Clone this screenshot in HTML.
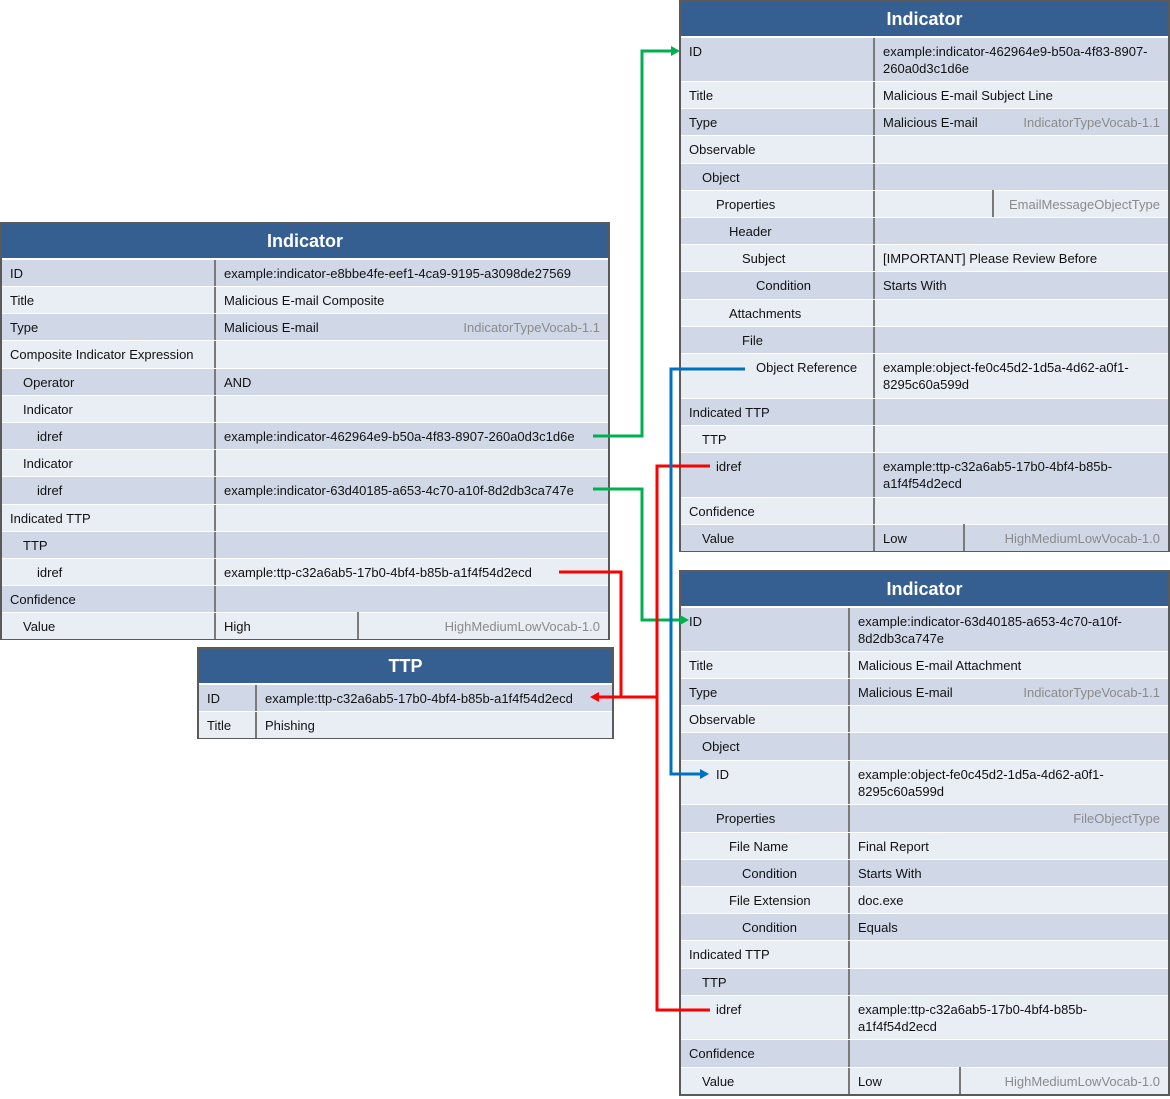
<!DOCTYPE html>
<html><head><meta charset="utf-8"><style>
*{box-sizing:border-box;margin:0;padding:0}
body{width:1170px;height:1099px;background:#fff;position:relative;overflow:hidden;font-family:"Liberation Sans",sans-serif;font-size:13px;color:#111}
.box{position:absolute;border:2px solid #5a5a5a;background:#fff}
.hd{background:#365F91;color:#fff;font-weight:bold;font-size:18px;text-align:center;line-height:34px;margin-bottom:1px}
.r{display:flex;border-top:1px solid #fff;line-height:17px}
.d{background:#D0D8E8}.l{background:#E9EDF4}
.k{border-right:2px solid #7a7a7a;padding:5px 0 0 8px;flex:none}
.v{padding:5px 0 0 8px;flex:1;position:relative}
.g{color:#8a8a8a;position:absolute;right:8px;top:5px}
.sp{position:absolute;top:-1px;bottom:0;border-left:2px solid #7a7a7a}
.i1{padding-left:21px!important}.i2{padding-left:35px!important}.i3{padding-left:48px!important}.i4{padding-left:61px!important}.i5{padding-left:75px!important}
</style></head><body>

<!-- Left Indicator -->
<div class="box" style="left:0;top:222px;width:610px;height:418px">
<div class="hd">Indicator</div>
<div class="r d" style="height:27px"><div class="k" style="width:214px">ID</div><div class="v">example:indicator-e8bbe4fe-eef1-4ca9-9195-a3098de27569</div></div>
<div class="r l" style="height:27px"><div class="k" style="width:214px">Title</div><div class="v">Malicious E-mail Composite</div></div>
<div class="r d" style="height:27px"><div class="k" style="width:214px">Type</div><div class="v">Malicious E-mail<span class="g">IndicatorTypeVocab-1.1</span></div></div>
<div class="r l" style="height:28px"><div class="k" style="width:214px">Composite Indicator Expression</div><div class="v"></div></div>
<div class="r d" style="height:27px"><div class="k i1" style="width:214px">Operator</div><div class="v">AND</div></div>
<div class="r l" style="height:27px"><div class="k i1" style="width:214px">Indicator</div><div class="v"></div></div>
<div class="r d" style="height:27px"><div class="k i2" style="width:214px">idref</div><div class="v">example:indicator-462964e9-b50a-4f83-8907-260a0d3c1d6e</div></div>
<div class="r l" style="height:27px"><div class="k i1" style="width:214px">Indicator</div><div class="v"></div></div>
<div class="r d" style="height:28px"><div class="k i2" style="width:214px">idref</div><div class="v">example:indicator-63d40185-a653-4c70-a10f-8d2db3ca747e</div></div>
<div class="r l" style="height:27px"><div class="k" style="width:214px">Indicated TTP</div><div class="v"></div></div>
<div class="r d" style="height:27px"><div class="k i1" style="width:214px">TTP</div><div class="v"></div></div>
<div class="r l" style="height:27px"><div class="k i2" style="width:214px">idref</div><div class="v">example:ttp-c32a6ab5-17b0-4bf4-b85b-a1f4f54d2ecd</div></div>
<div class="r d" style="height:27px"><div class="k" style="width:214px">Confidence</div><div class="v"></div></div>
<div class="r l" style="height:27px"><div class="k i1" style="width:214px">Value</div><div class="v">High<span class="sp" style="left:141px"></span><span class="g">HighMediumLowVocab-1.0</span></div></div>
</div>

<!-- TTP -->
<div class="box" style="left:197px;top:647px;width:417px;height:92px">
<div class="hd">TTP</div>
<div class="r d" style="height:27px"><div class="k" style="width:58px">ID</div><div class="v">example:ttp-c32a6ab5-17b0-4bf4-b85b-a1f4f54d2ecd</div></div>
<div class="r l" style="height:27px"><div class="k" style="width:58px">Title</div><div class="v">Phishing</div></div>
</div>

<!-- Top right Indicator -->
<div class="box" style="left:679px;top:0;width:491px;height:552px">
<div class="hd">Indicator</div>
<div class="r d" style="height:44px"><div class="k" style="width:194px">ID</div><div class="v">example:indicator-462964e9-b50a-4f83-8907-<br>260a0d3c1d6e</div></div>
<div class="r l" style="height:27px"><div class="k" style="width:194px">Title</div><div class="v">Malicious E-mail Subject Line</div></div>
<div class="r d" style="height:27px"><div class="k" style="width:194px">Type</div><div class="v">Malicious E-mail<span class="g">IndicatorTypeVocab-1.1</span></div></div>
<div class="r l" style="height:28px"><div class="k" style="width:194px">Observable</div><div class="v"></div></div>
<div class="r d" style="height:27px"><div class="k i1" style="width:194px">Object</div><div class="v"></div></div>
<div class="r l" style="height:27px"><div class="k i2" style="width:194px">Properties</div><div class="v"><span class="sp" style="left:117px"></span><span class="g">EmailMessageObjectType</span></div></div>
<div class="r d" style="height:27px"><div class="k i3" style="width:194px">Header</div><div class="v"></div></div>
<div class="r l" style="height:27px"><div class="k i4" style="width:194px">Subject</div><div class="v">[IMPORTANT] Please Review Before</div></div>
<div class="r d" style="height:28px"><div class="k i5" style="width:194px">Condition</div><div class="v">Starts With</div></div>
<div class="r l" style="height:27px"><div class="k i3" style="width:194px">Attachments</div><div class="v"></div></div>
<div class="r d" style="height:27px"><div class="k i4" style="width:194px">File</div><div class="v"></div></div>
<div class="r l" style="height:45px"><div class="k i5" style="width:194px">Object Reference</div><div class="v">example:object-fe0c45d2-1d5a-4d62-a0f1-<br>8295c60a599d</div></div>
<div class="r d" style="height:27px"><div class="k" style="width:194px">Indicated TTP</div><div class="v"></div></div>
<div class="r l" style="height:27px"><div class="k i1" style="width:194px">TTP</div><div class="v"></div></div>
<div class="r d" style="height:45px"><div class="k i2" style="width:194px">idref</div><div class="v">example:ttp-c32a6ab5-17b0-4bf4-b85b-<br>a1f4f54d2ecd</div></div>
<div class="r l" style="height:27px"><div class="k" style="width:194px">Confidence</div><div class="v"></div></div>
<div class="r d" style="height:27px"><div class="k i1" style="width:194px">Value</div><div class="v">Low<span class="sp" style="left:88px"></span><span class="g">HighMediumLowVocab-1.0</span></div></div>
</div>

<!-- Bottom right Indicator -->
<div class="box" style="left:679px;top:570px;width:491px;height:526px">
<div class="hd">Indicator</div>
<div class="r d" style="height:44px"><div class="k" style="width:169px">ID</div><div class="v">example:indicator-63d40185-a653-4c70-a10f-<br>8d2db3ca747e</div></div>
<div class="r l" style="height:27px"><div class="k" style="width:169px">Title</div><div class="v">Malicious E-mail Attachment</div></div>
<div class="r d" style="height:27px"><div class="k" style="width:169px">Type</div><div class="v">Malicious E-mail<span class="g">IndicatorTypeVocab-1.1</span></div></div>
<div class="r l" style="height:27px"><div class="k" style="width:169px">Observable</div><div class="v"></div></div>
<div class="r d" style="height:28px"><div class="k i1" style="width:169px">Object</div><div class="v"></div></div>
<div class="r l" style="height:44px"><div class="k i2" style="width:169px">ID</div><div class="v">example:object-fe0c45d2-1d5a-4d62-a0f1-<br>8295c60a599d</div></div>
<div class="r d" style="height:28px"><div class="k i2" style="width:169px">Properties</div><div class="v"><span class="g">FileObjectType</span></div></div>
<div class="r l" style="height:27px"><div class="k i3" style="width:169px">File Name</div><div class="v">Final Report</div></div>
<div class="r d" style="height:27px"><div class="k i4" style="width:169px">Condition</div><div class="v">Starts With</div></div>
<div class="r l" style="height:27px"><div class="k i3" style="width:169px">File Extension</div><div class="v">doc.exe</div></div>
<div class="r d" style="height:27px"><div class="k i4" style="width:169px">Condition</div><div class="v">Equals</div></div>
<div class="r l" style="height:28px"><div class="k" style="width:169px">Indicated TTP</div><div class="v"></div></div>
<div class="r d" style="height:27px"><div class="k i1" style="width:169px">TTP</div><div class="v"></div></div>
<div class="r l" style="height:44px"><div class="k i2" style="width:169px">idref</div><div class="v">example:ttp-c32a6ab5-17b0-4bf4-b85b-<br>a1f4f54d2ecd</div></div>
<div class="r d" style="height:28px"><div class="k" style="width:169px">Confidence</div><div class="v"></div></div>
<div class="r l" style="height:27px"><div class="k i1" style="width:169px">Value</div><div class="v">Low<span class="sp" style="left:109px"></span><span class="g">HighMediumLowVocab-1.0</span></div></div>
</div>

<svg style="position:absolute;left:0;top:0" width="1170" height="1099">
<g fill="none" stroke-width="3">
<polyline stroke="#00B050" points="593,436 642,436 642,51 672,51"/>
<polyline stroke="#00B050" points="593,489 642,489 642,620 681,620"/>
<polyline stroke="#FF0000" points="559,572 621,572 621,697 598,697"/>
<polyline stroke="#FF0000" points="621,697 657,697"/>
<polyline stroke="#FF0000" points="710,466 657,466 657,1010 710,1010"/>
<polyline stroke="#0070C0" points="745,369 671,369 671,774 701,774"/>
</g>
<polygon fill="#00B050" points="680,51 671,46 671,56"/>
<polygon fill="#00B050" points="689,620 680,615 680,625"/>
<polygon fill="#FF0000" points="590,697 599,692 599,702"/>
<polygon fill="#0070C0" points="709,774 700,769 700,779"/>
</svg>
</body></html>
